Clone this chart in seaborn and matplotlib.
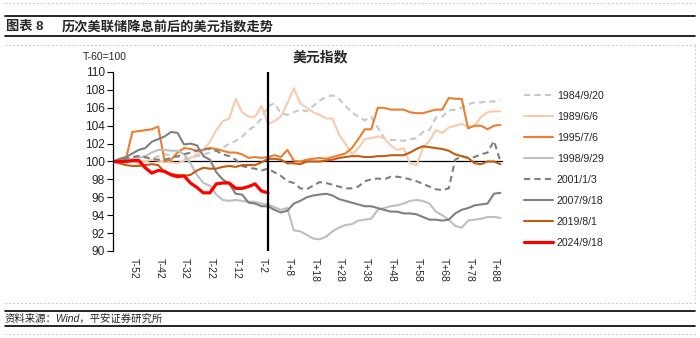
import numpy as np
import pandas as pd
import matplotlib
matplotlib.use("Agg")
import matplotlib.pyplot as plt
from matplotlib.lines import Line2D
import seaborn as sns

# ---------------- data (trading-day offset from the cut, T-60 = 100) ----------------
days = [-60 + 2.5 * i for i in range(61)]        # -60 ... 90
days_2024 = [-60 + 2.5 * i for i in range(25)]   # -60 ... 0

s1984 = [100, 100.2, 100.4, 100.5, 100.6, 100.4, 100.3, 100.6, 100.8, 100.7, 100.5, 100.3,
         100.4, 100.6, 100.8, 101.0, 101.2, 101.5, 102.0, 102.3, 102.8, 103.5, 104.0, 104.8,
         106.2, 106.5, 105.4, 105.2, 105.5, 105.8, 105.6, 106.2, 106.8, 107.2, 107.4, 107.0,
         106.2, 105.5, 105.0, 104.6, 105.0, 103.8, 102.6, 102.4, 102.4, 102.3, 102.5, 102.6,
         103.3, 103.5, 104.9, 105.0, 105.7, 105.8, 106.0, 106.4, 106.6, 106.6, 106.7, 106.7, 106.8]
s1989 = [100, 100.1, 100.3, 100.0, 99.8, 100.0, 100.2, 100.1, 100.0, 99.9, 99.8, 100.1,
         100.4, 100.8, 101.3, 102.2, 103.5, 104.5, 104.8, 107.0, 105.5, 105.0, 105.0, 106.2,
         104.2, 104.5, 105.0, 106.5, 108.2, 106.5, 106.0, 105.5, 105.2, 104.8, 104.8, 103.0,
         102.0, 100.8, 101.5, 102.5, 102.6, 102.8, 102.6, 101.8, 101.3, 101.5, 99.8, 99.6,
         101.5, 102.3, 103.5, 103.2, 103.8, 104.0, 104.2, 103.9, 104.0, 105.0, 105.5, 105.6, 105.6]
s1995 = [100, 100.2, 100.3, 103.3, 103.4, 103.5, 103.6, 103.9, 100.0, 100.2, 101.0, 101.5,
         101.4, 101.2, 101.3, 101.5, 101.4, 101.2, 101.0, 101.0, 100.8, 100.4, 100.5, 100.4,
         100.5, 100.7, 100.5, 101.3, 100.1, 100.0, 100.2, 100.3, 100.4, 100.3, 100.5, 100.7,
         100.9, 101.5, 102.5, 103.6, 103.6, 106.0, 106.0, 105.8, 105.8, 105.8, 105.5, 105.4,
         105.4, 105.6, 105.8, 105.8, 107.1, 107.0, 107.0, 103.7, 104.0, 104.0, 103.6, 104.0, 104.1]
s1998 = [100, 100.0, 100.1, 100.3, 100.4, 100.6, 101.0, 101.3, 101.3, 101.2, 101.2, 100.8,
         99.8, 98.5, 97.6, 97.3, 96.3, 95.7, 95.6, 95.7, 95.6, 95.5, 95.5, 95.3,
         95.2, 94.9, 94.6, 94.8, 92.3, 92.2, 91.8, 91.4, 91.3, 91.6, 92.2, 92.6,
         92.9, 93.0, 93.4, 93.5, 93.6, 94.6, 94.8, 95.0, 95.1, 95.3, 95.6, 95.7,
         95.6, 95.3, 94.4, 94.0, 93.5, 92.8, 92.6, 93.4, 93.5, 93.6, 93.8, 93.8, 93.7]
s2001 = [100, 100.1, 100.3, 100.5, 100.6, 100.5, 100.3, 100.2, 100.2, 100.4, 100.6, 100.8,
         101.0, 101.2, 101.4, 101.4, 101.2, 100.8, 100.6, 100.2, 99.5, 99.3, 99.2, 99.0,
         99.2, 98.8, 98.4, 97.8, 97.6, 97.0, 96.9, 97.3, 97.7, 97.6, 97.4, 97.2,
         97.0, 97.0, 97.2, 97.8, 98.0, 98.1, 98.0, 98.3, 98.3, 98.2, 98.0, 97.8,
         97.5, 97.2, 96.9, 96.8, 97.0, 100.2, 100.6, 100.4, 100.5, 100.8, 101.0, 102.3, 100.0]
s2007 = [100, 100.3, 100.5, 100.9, 101.3, 101.5, 102.2, 102.5, 102.8, 103.3, 103.2, 101.9,
         102.0, 101.8, 100.6, 100.2, 98.8, 98.0, 97.5, 96.4, 96.3, 95.4, 95.3, 95.0,
         95.0, 94.6, 94.3, 94.5, 95.3, 95.6, 96.0, 96.2, 96.3, 96.4, 96.2, 95.8,
         95.6, 95.4, 95.2, 95.0, 95.0, 94.8, 94.6, 94.4, 94.4, 94.2, 94.2, 94.1,
         93.8, 93.5, 93.5, 93.4, 93.5, 94.2, 94.6, 94.8, 95.1, 95.2, 95.3, 96.4, 96.5]
s2019 = [100, 99.8, 99.6, 99.5, 99.5, 99.6, 99.7, 99.6, 98.8, 98.6, 98.5, 98.4,
         98.5, 99.0, 99.3, 99.2, 99.2, 99.4, 99.5, 99.4, 99.6, 99.6, 99.6, 99.9,
         100.3, 100.3, 100.2, 99.8, 99.8, 99.7, 100.0, 100.0, 100.0, 100.1, 100.2, 100.4,
         100.5, 100.6, 100.6, 100.5, 100.5, 100.6, 100.6, 100.7, 100.7, 100.7, 101.0, 101.4,
         101.7, 101.6, 101.5, 101.4, 101.2, 100.8, 100.6, 100.4, 99.8, 99.7, 100.0, 100.0, 99.7]
s2024 = [100.0, 100.0, 100.0, 100.1, 100.1, 99.3, 98.7, 99.0, 98.9, 98.5, 98.3, 98.4,
         97.6, 97.1, 96.5, 96.5, 97.5, 97.6, 97.6, 97.0, 97.0, 97.2, 97.5, 96.7, 96.5]

series_names = ["1984/9/20", "1989/6/6", "1995/7/6", "1998/9/29",
                "2001/1/3", "2007/9/18", "2019/8/1", "2024/9/18"]
tick_days = list(range(-52, 89, 10))
tick_labels = [f"T{d:+d}" if d > 0 else f"T{d}" for d in tick_days]

# ---------------- style ----------------
sns.set_theme(style="white")
plt.rcParams["font.family"] = ["Liberation Sans", "Noto Sans CJK SC", "DejaVu Sans"]
plt.rcParams["axes.unicode_minus"] = False

colors = ["#c8c8c8", "#f8cbad", "#ed7d31", "#bfbfbf", "#7f7f7f", "#808080", "#c55a11", "#ff0000"]
styles = [(0, (3, 2)), "-", "-", "-", (0, (3, 2)), "-", "-", "-"]
widths = [1.5, 1.5, 1.5, 1.5, 1.5, 1.5, 1.5, 2.3]

fig = plt.figure(figsize=(7, 3.38), dpi=100)
ax = fig.add_axes([113 / 700, 1 - 251 / 338, 390 / 700, 179 / 338])

all_x = [days] * 7 + [days_2024]
all_y = [s1984, s1989, s1995, s1998, s2001, s2007, s2019, s2024]
for name, xs, ys, c, ls, lw in zip(series_names, all_x, all_y, colors, styles, widths):
    df = pd.DataFrame({"day": xs, "value": ys})
    sns.lineplot(data=df, x="day", y="value", ax=ax, color=c, linestyle=ls,
                 linewidth=lw, label=name, legend=False)

ax.axhline(100, color="black", lw=0.9, zorder=1.5)
ax.axvline(0, color="black", lw=1.6, zorder=5)

ax.set_xlim(-60, 91)
ax.set_ylim(90, 110)
ax.set_yticks(list(range(90, 111, 2)))
ax.set_xticks(tick_days)
ax.set_xticklabels(tick_labels, rotation=-90, fontsize=7.5)
ax.tick_params(axis="x", length=0, pad=5)
ax.tick_params(axis="y", direction="out", length=4, width=0.8, color="black",
               labelsize=8.6, pad=2, left=True)
ax.set_xlabel("")
ax.set_ylabel("")
for s in ["top", "right", "bottom"]:
    ax.spines[s].set_visible(False)
ax.spines["left"].set_color("black")
ax.spines["left"].set_linewidth(0.9)
ax.grid(False)

handles = ax.get_lines()[:8]
ax.legend(handles, series_names, loc="upper left",
          bbox_to_anchor=(524 / 700, 1 - 91 / 338), bbox_transform=fig.transFigure,
          frameon=False, fontsize=7.6, handlelength=2.7, handletextpad=0.4,
          labelspacing=1.04, borderpad=0, borderaxespad=0)

# ---------------- texts ----------------
fig.text(320 / 700, 1 - 57 / 338, "美元指数", ha="center", va="center",
         fontsize=10, fontweight="bold")
fig.text(83 / 700, 1 - 57 / 338, "T-60=100", ha="left", va="center", fontsize=7.5)
fig.text(6 / 700, 1 - 27 / 338, "图表 8", ha="left", va="center",
         fontsize=9.5, fontweight="bold")
fig.text(62 / 700, 1 - 27 / 338, "历次美联储降息前后的美元指数走势", ha="left", va="center",
         fontsize=9.5, fontweight="bold")
fig.text(5 / 700, 1 - 318.5 / 338, "资料来源：Wind，平安证券研究所", ha="left", va="center",
         fontsize=7.5, fontstyle="italic")

def hline(y, **kw):
    fig.add_artist(Line2D([5 / 700, 695 / 700], [1 - y / 338, 1 - y / 338],
                          transform=fig.transFigure, **kw))

hline(16, color="black", lw=1.2)
hline(36, color="black", lw=1.2)
hline(311, color="black", lw=1.2)
hline(326, color="black", lw=1.2)
for y in (3, 45, 303, 334):
    hline(y, color="#c8c8c8", lw=0.7, linestyle=(0, (2, 2)))
fig.add_artist(Line2D([695 / 700, 695 / 700], [1 - 45 / 338, 1 - 303 / 338],
                      transform=fig.transFigure, color="#d0d0d0", lw=0.7,
                      linestyle=(0, (2, 2))))

fig.savefig("out.png", dpi=100)
